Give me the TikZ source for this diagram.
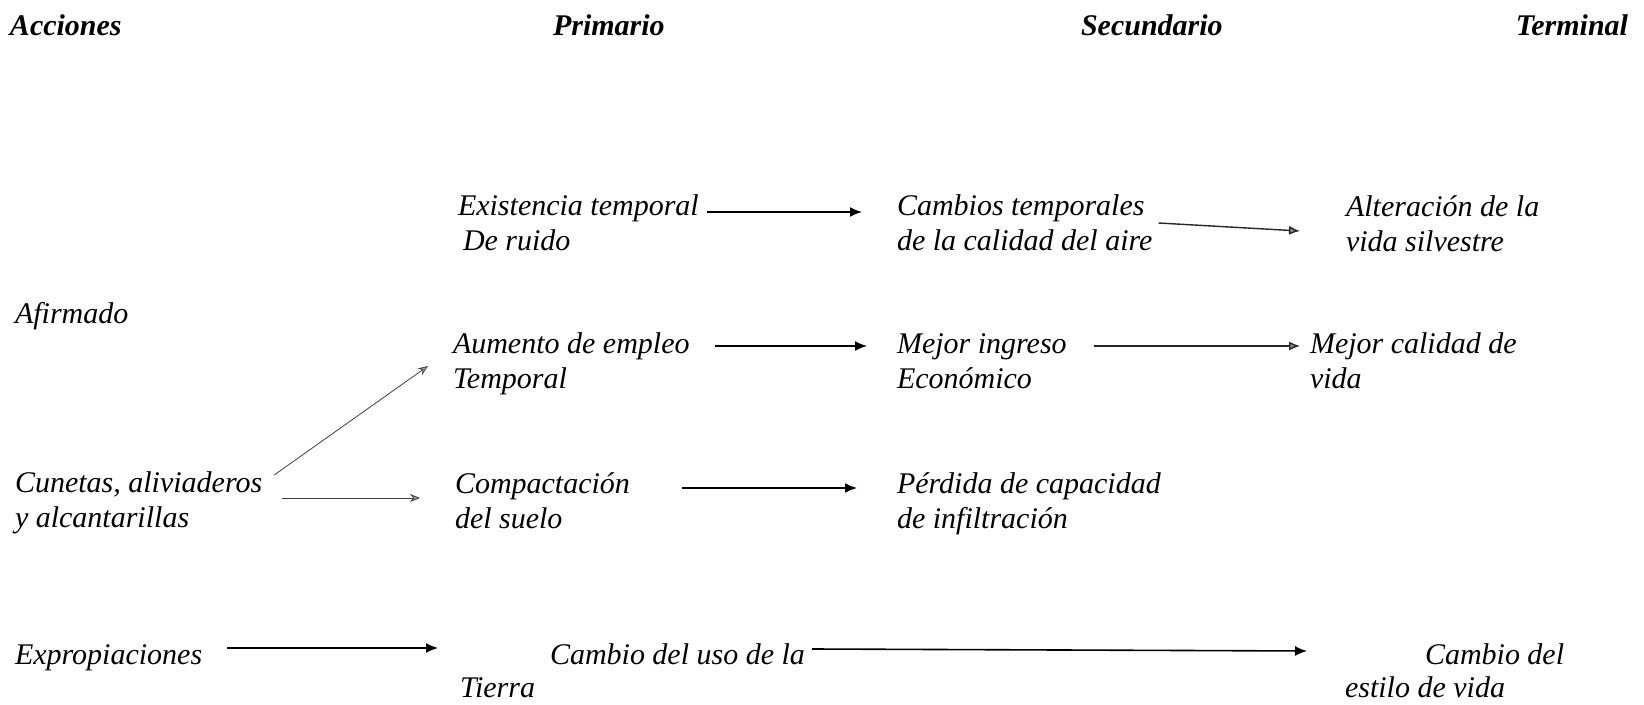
\documentclass[tikz,border=0pt]{standalone}
\usepackage{fontspec}
\setmainfont{Liberation Serif}
\usetikzlibrary{arrows.meta}
\begin{document}
\begin{tikzpicture}[x=0.5pt,y=-0.5pt,
  txt/.style={anchor=base west, inner sep=0pt, outer sep=0pt, align=left,
    font=\fontsize{15}{17.5}\selectfont\itshape},
  tighttxt/.style={txt, font=\fontsize{15}{16.5}\selectfont\itshape},
  hdr/.style={anchor=base west, inner sep=0pt, outer sep=0pt,
    font=\fontsize{15}{17.5}\selectfont\bfseries\itshape},
  arr/.style={line width=0.8pt, -{Latex[length=6pt,width=5pt]}},
  arrg/.style={line width=0.7pt, black!85, -{Latex[length=5.5pt,width=4.5pt,fill=black!45]}},
  arrt/.style={line width=0.4pt, black!75, -{Stealth[length=5pt,width=4pt,fill=black!35]}}]
\useasboundingbox (0,0) rectangle (1644,705);

\begin{scope}[yshift=-2pt]
% headers
\node[hdr] (h1) at (10,32) {Acciones};
\node[hdr] (h2) at (553,32) {Primario};
\node[hdr] (h3) at (1081,32) {Secundario};
\node[hdr, anchor=base east] (h4) at (1628,32) {Terminal};

% row 1 (two-line nodes: base = baseline of the second line)
\node[txt] (ex) at (458,247) {Existencia temporal\\\hspace*{2.5pt}De ruido};
\node[txt] (ca) at (897,247) {Cambios temporales\\de la calidad del aire};
\node[txt] (al) at (1346,248) {Alteración de la\\vida silvestre};

\node[txt] (af) at (15,320) {Afirmado};

% row 2
\node[txt] (au) at (453,385) {Aumento de empleo\\Temporal};
\node[txt] (mi) at (897,385) {Mejor ingreso\\Económico};
\node[txt] (mc) at (1310,385) {Mejor calidad de\\vida};

% row 3
\node[txt] (cu) at (15,524) {Cunetas, aliviaderos\\y alcantarillas};
\node[txt] (co) at (455,525) {Compactación\\del suelo};
\node[txt] (pe) at (897,525) {Pérdida de capacidad\\de infiltración};

% row 4
\node[txt] (xp) at (15,660) {Expropiaciones};
\node[tighttxt] (us) at (460,693) {\hspace*{45pt}Cambio del uso de la\\Tierra};
\node[tighttxt] (es) at (1345,693) {\hspace*{40pt}Cambio del\\estilo de vida};

% arrows
\draw[arr]  ([shift={(8,-39)}]ex.base east) -- ([shift={(-35,-39)}]ca.base west);
\draw[arrg] ([shift={(6,-28)}]ca.base east) -- ([shift={(-46,-21)}]al.base west);
\draw[arr]  ([shift={(25,-43)}]au.base east) -- ([shift={(-30,-43)}]mi.base west);
\draw[arrg] ([shift={(27,-43)}]mi.base east) -- ([shift={(-10,-43)}]mc.base west);
\draw[arr]  ([shift={(52,-41)}]co.base east) -- ([shift={(-40,-41)}]pe.base west);
\draw[arrt] ([shift={(12,-53)}]cu.base east) -- ([shift={(-25,-23)}]au.base west);
\draw[arrt] ([shift={(20,-30)}]cu.base east) -- ([shift={(-35,-31)}]co.base west);
\draw[arr]  ([shift={(25,-16)}]xp.base east) -- ([shift={(-22,-49)}]us.base west);
\draw[arr]  ([shift={(7,-48)}]us.base east) -- ([shift={(-38,-46)}]es.base west);
\end{scope}
\end{tikzpicture}
\end{document}
